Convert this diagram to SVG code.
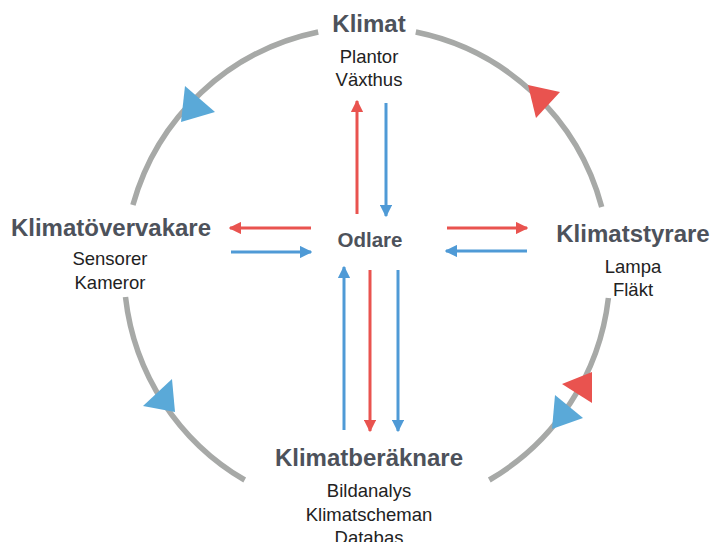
<svg xmlns="http://www.w3.org/2000/svg" width="712" height="542" viewBox="0 0 712 542">
  <defs>
    <style>
      .ring { fill: none; stroke: #a7a9a7; stroke-width: 5.5; }
      .red { stroke: #e9534f; stroke-width: 3; fill: none; }
      .blue { stroke: #4f9ad6; stroke-width: 3; fill: none; }
      .tri-red { fill: #e9534f; }
      .tri-blue { fill: #5aa9d8; }
      .title { font-family: "Liberation Sans", Arial, sans-serif; font-weight: bold; font-size: 24px; fill: #4d525b; text-anchor: middle; }
      .hub { font-family: "Liberation Sans", Arial, sans-serif; font-weight: bold; font-size: 20.5px; fill: #4d525b; text-anchor: middle; }
      .sub { font-family: "Liberation Sans", Arial, sans-serif; font-size: 18.5px; fill: #222222; text-anchor: middle; }
    </style>
    <marker id="head-red" viewBox="0 0 10 10" refX="9" refY="5" markerWidth="4.2" markerHeight="4.2" orient="auto" markerUnits="strokeWidth">
      <path d="M0,0 L10,5 L0,10 z" fill="#e9534f"/>
    </marker>
    <marker id="head-blue" viewBox="0 0 10 10" refX="9" refY="5" markerWidth="4.2" markerHeight="4.2" orient="auto" markerUnits="strokeWidth">
      <path d="M0,0 L10,5 L0,10 z" fill="#4f9ad6"/>
    </marker>
  </defs>

  <!-- outer cycle: four arc segments with gaps at the labels -->
  <g id="cycle">
    <path class="ring" d="M415.8,32 A243,243 0 0 1 601.7,207"/>
    <path class="ring" d="M608.4,298 A243,243 0 0 1 489.3,480"/>
    <path class="ring" d="M244.7,480 A243,243 0 0 1 125.5,297"/>
    <path class="ring" d="M132.9,205 A243,243 0 0 1 318.2,32"/>
    <polygon class="tri-blue" points="185,86 215,112 181,122"/>
    <polygon class="tri-red" points="528,85 560,92 536,118"/>
    <polygon class="tri-blue" points="172,379 175,412 143,406"/>
    <polygon class="tri-red" points="592,372 592,403 562,384"/>
    <polygon class="tri-blue" points="555,395 583,418 552,429"/>
  </g>

  <!-- connectors between the hub and the outer nodes -->
  <g id="connectors">
    <line class="red" x1="357" y1="214" x2="357" y2="101" marker-end="url(#head-red)"/>
    <line class="blue" x1="386" y1="103" x2="386" y2="216" marker-end="url(#head-blue)"/>
    <line class="red" x1="311" y1="228" x2="230" y2="228" marker-end="url(#head-red)"/>
    <line class="blue" x1="231" y1="252" x2="311" y2="252" marker-end="url(#head-blue)"/>
    <line class="red" x1="447" y1="228" x2="527" y2="228" marker-end="url(#head-red)"/>
    <line class="blue" x1="527" y1="251" x2="446" y2="251" marker-end="url(#head-blue)"/>
    <line class="blue" x1="344" y1="430" x2="344" y2="267" marker-end="url(#head-blue)"/>
    <line class="red" x1="370" y1="270" x2="370" y2="431" marker-end="url(#head-red)"/>
    <line class="blue" x1="398" y1="270" x2="398" y2="431" marker-end="url(#head-blue)"/>
  </g>

  <g id="klimat">
    <text class="title" x="369" y="32">Klimat</text>
    <text class="sub" x="369" y="63">Plantor</text>
    <text class="sub" x="369" y="86">Växthus</text>
  </g>

  <g id="odlare">
    <text class="hub" x="370" y="247">Odlare</text>
  </g>

  <g id="klimatovervakare">
    <text class="title" x="111" y="236">Klimatövervakare</text>
    <text class="sub" x="110" y="265">Sensorer</text>
    <text class="sub" x="110" y="289">Kameror</text>
  </g>

  <g id="klimatstyrare">
    <text class="title" x="633" y="242">Klimatstyrare</text>
    <text class="sub" x="633" y="273">Lampa</text>
    <text class="sub" x="633" y="296">Fläkt</text>
  </g>

  <g id="klimatberaknare">
    <text class="title" x="369" y="466">Klimatberäknare</text>
    <text class="sub" x="369" y="497">Bildanalys</text>
    <text class="sub" x="369" y="521">Klimatscheman</text>
    <text class="sub" x="369" y="544">Databas</text>
  </g>
</svg>
